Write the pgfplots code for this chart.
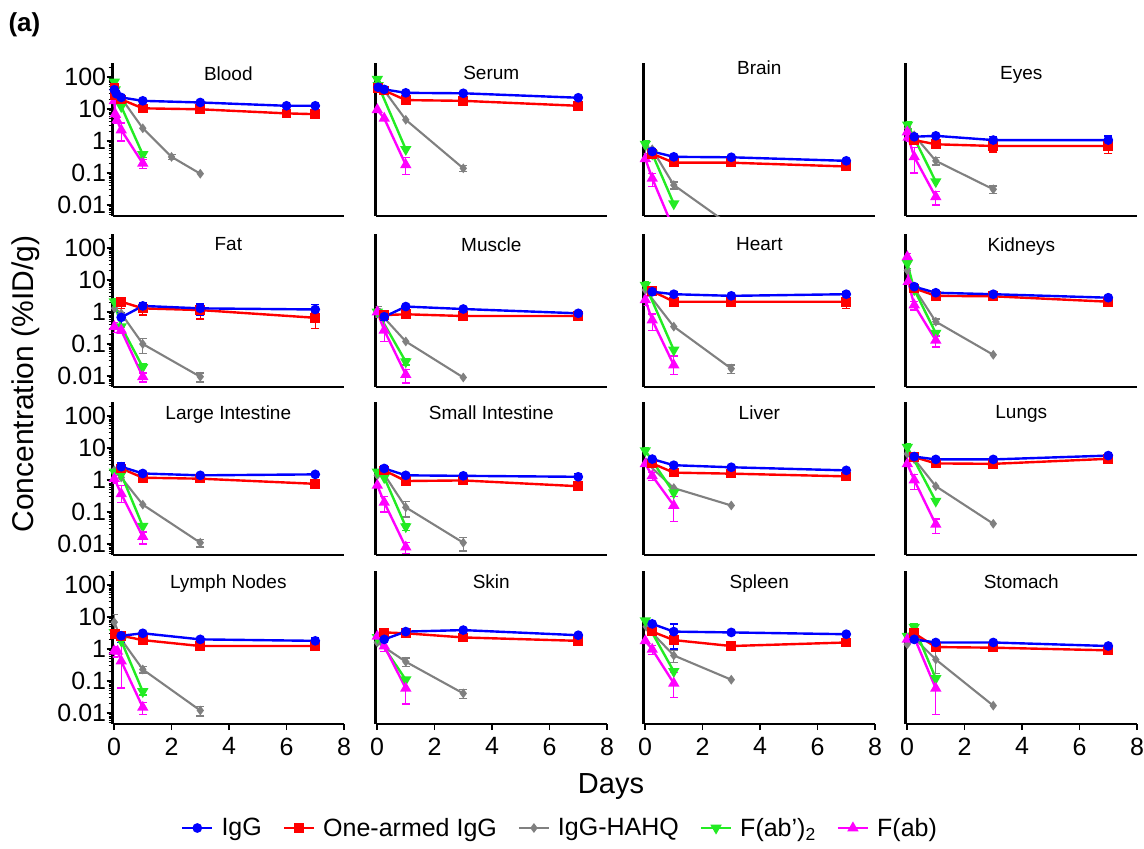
\documentclass[border=0pt]{standalone}
\usepackage{fontspec}
\setmainfont{Liberation Sans}
\usepackage{pgfplots}
\pgfplotsset{compat=1.18}
\definecolor{cblue}{RGB}{0,0,255}
\definecolor{cred}{RGB}{255,0,0}
\definecolor{cgray}{RGB}{128,128,128}
\definecolor{cgreen}{RGB}{35,235,35}
\definecolor{cmag}{RGB}{255,0,255}
\newcommand\tickfont{\fontsize{25}{30}\selectfont}
\newcommand\ttlfont{\fontsize{19}{22}\selectfont}
\newcommand\legfont{\fontsize{25}{30}\selectfont}
\pgfplotsset{
  myebar/.style={/pgfplots/error bars/y dir=both, /pgfplots/error bars/y explicit,
    /pgfplots/error bars/error bar style={line width=1.4pt, solid},
    /pgfplots/error bars/error mark options={rotate=90, mark size=4pt, line width=1.4pt}},
  sIgG/.style={cblue, line width=2.4pt, mark=*, mark size=3.6pt, mark options={solid}, myebar},
  sOA/.style={cred, line width=2.4pt, mark=square*, mark size=3.6pt, mark options={solid}, myebar},
  sHQ/.style={cgray, line width=2.1pt, mark=diamond*, mark size=3.2pt, mark options={solid}, myebar},
  sF2/.style={cgreen, line width=2.4pt, mark=triangle*, mark size=4.2pt, mark options={solid, rotate=180}, myebar},
  sF1/.style={cmag, line width=2.4pt, mark=triangle*, mark size=4.2pt, mark options={solid}, myebar},
  mypanel/.style={
    scale only axis, width=231.4pt, height=153.4pt, anchor=north west,
    xmin=-0.05, xmax=8, ymin=0.0045, ymax=280,
    axis x line*=bottom, axis y line*=left,
    axis line style={line width=2.3pt, -},
    xtick=\empty, ytick=\empty,
    tick align=outside, major tick length=6pt, minor tick length=4pt,
    every tick/.style={black, line width=1.5pt},
    every minor tick/.style={black, line width=1.1pt},
    tick label style={font=\tickfont},
    title style={font=\ttlfont, at={(0.5,1)}, anchor=north, yshift=-6pt},
  },
  myylab/.style={ytick={0.01,0.1,1,10,100}, yticklabels={0.01,0.1,1,10,100},
    minor ytick={0.005,0.006,0.007,0.008,0.009,0.02,0.03,0.04,0.05,0.06,0.07,0.08,0.09,
      0.2,0.3,0.4,0.5,0.6,0.7,0.8,0.9,2,3,4,5,6,7,8,9,20,30,40,50,60,70,80,90,200},
    yticklabel style={xshift=3pt}},
  myxlab/.style={xtick={0,2,4,6,8}, xticklabels={0,2,4,6,8}, xticklabel style={yshift=-4pt}},
}
\begin{document}
\begin{tikzpicture}
\path[use as bounding box] (0,0) rectangle (1144pt,-849pt);
% ---------------- Row 1 ----------------
\begin{axis}[ymode=log, mypanel, myylab, at={(112.6pt,-62.7pt)}, title={Blood}]
\addplot[sHQ] coordinates {(0.02,40) (0.25,22) (1,2.5) (2,0.32) +- (0,0.06) (3,0.095)};
\addplot[sF2] coordinates {(0.01,70) (0.04,40) (0.25,12) (1,0.38) +- (0,0.08)};
\addplot[sF1] coordinates {(0.01,18) (0.04,7) (0.1,4.5) +- (0,1) (0.25,2.2) += (0,1.5) -= (0,1.2) (1,0.2) +- (0,0.06)};
\addplot[sOA] coordinates {(0.01,45) (0.04,28) (0.25,20) (1,10.5) +- (0,1.5) (3,9.8) +- (0,1) (6,7.3) (7,6.9)};
\addplot[sIgG] coordinates {(0.01,40) (0.08,30) (0.25,23) (1,18) (3,16) (6,12.6) (7,12.6)};
\end{axis}
\begin{axis}[ymode=log, mypanel, at={(375.6pt,-62.7pt)}, title={Serum}]
\addplot[sHQ] coordinates {(0.02,50) (0.25,38) (1,4.6) (3,0.14) +- (0,0.03)};
\addplot[sF2] coordinates {(0.01,85) +- (0,15) (0.04,55) (1,0.55)};
\addplot[sF1] coordinates {(0.01,9.5) (0.25,5.1) (1,0.18) += (0,0.12) -= (0,0.09)};
\addplot[sOA] coordinates {(0.04,45) (0.25,38) (1,19) +- (0,3) (3,18) (7,12.6)};
\addplot[sIgG] coordinates {(0.04,48) (0.25,41) +- (0,8) (1,32) (3,31) (7,22.5)};
\end{axis}
\begin{axis}[ymode=log, mypanel, at={(643.6pt,-62.7pt)}, title={Brain}, title style={yshift=6pt}]
\addplot[sHQ] coordinates {(0.02,0.7) +- (0,0.3) (0.25,0.55) (1,0.042) +- (0,0.01) (3,0.0022)};
\addplot[sF2] coordinates {(0.01,0.8) +- (0,0.2) (0.25,0.4) (1,0.011)};
\addplot[sF1] coordinates {(0.01,0.28) (0.25,0.068) +- (0,0.03) (1,0.0017)};
\addplot[sOA] coordinates {(0.25,0.4) (1,0.21) +- (0,0.03) (3,0.21) (7,0.16)};
\addplot[sIgG] coordinates {(0.25,0.47) +- (0,0.1) (1,0.32) (3,0.31) (7,0.24)};
\end{axis}
\begin{axis}[ymode=log, mypanel, at={(905.6pt,-62.7pt)}, title={Eyes}]
\addplot[sHQ] coordinates {(0.02,2.5) +- (0,1) (0.25,1.5) (1,0.24) +- (0,0.06) (3,0.031) +- (0,0.008)};
\addplot[sF2] coordinates {(0.02,3.2) +- (0,0.8) (1,0.054)};
\addplot[sF1] coordinates {(0.01,1.9) +- (0,0.9) (0.04,1.3) (0.25,0.32) += (0,0.3) -= (0,0.22) (1,0.018) +- (0,0.008)};
\addplot[sOA] coordinates {(0.25,1.07) (1,0.79) +- (0,0.1) (3,0.70) +- (0,0.25) (7,0.70) +- (0,0.3)};
\addplot[sIgG] coordinates {(0.25,1.36) +- (0,0.2) (1,1.45) +- (0,0.15) (3,1.07) +- (0,0.3) (7,1.07) +- (0,0.35)};
\end{axis}
% ---------------- Row 2 ----------------
\begin{axis}[ymode=log, mypanel, myylab, at={(112.6pt,-233.7pt)}, title={Fat}]
\addplot[sHQ] coordinates {(0.02,1.3) (0.25,0.9) (1,0.10) +- (0,0.05) (3,0.0095) +- (0,0.003)};
\addplot[sF2] coordinates {(0.01,2.1) +- (0,0.6) (0.25,0.35) (1,0.019) +- (0,0.006)};
\addplot[sF1] coordinates {(0.01,0.35) +- (0,0.12) (0.25,0.27) +- (0,0.06) (1,0.0095) +- (0,0.003)};
\addplot[sOA] coordinates {(0.25,2.1) +- (0,0.8) (1,1.3) +- (0,0.5) (3,1.15) +- (0,0.55) (7,0.66) +- (0,0.35)};
\addplot[sIgG] coordinates {(0.25,0.68) +- (0,0.3) (1,1.55) +- (0,0.4) (3,1.3) +- (0,0.5) (7,1.2) +- (0,0.5)};
\end{axis}
\begin{axis}[ymode=log, mypanel, at={(375.6pt,-233.7pt)}, title={Muscle}]
\addplot[sHQ] coordinates {(0.02,1.1) +- (0,0.4) (1,0.12) (3,0.009)};
\addplot[sF2] coordinates {(0.01,1.0) (1,0.028) +- (0,0.006)};
\addplot[sF1] coordinates {(0.01,1.0) +- (0,0.3) (0.25,0.27) += (0,0.3) -= (0,0.15) (1,0.011) +- (0,0.005)};
\addplot[sOA] coordinates {(0.25,0.8) +- (0,0.2) (1,0.85) +- (0,0.12) (3,0.75) +- (0,0.15) (7,0.75) +- (0,0.1)};
\addplot[sIgG] coordinates {(0.25,0.71) +- (0,0.15) (1,1.48) (3,1.24) (7,0.91)};
\end{axis}
\begin{axis}[ymode=log, mypanel, at={(643.6pt,-233.7pt)}, title={Heart}]
\addplot[sHQ] coordinates {(0.01,4.9) (1,0.35) (3,0.017) +- (0,0.005)};
\addplot[sF2] coordinates {(0.01,6.9) +- (0,2) (1,0.065)};
\addplot[sF1] coordinates {(0.01,2.4) +- (0,0.8) (0.25,0.56) +- (0,0.3) (1,0.022) += (0,0.02) -= (0,0.011)};
\addplot[sOA] coordinates {(0.25,4.5) +- (0,1) (1,2.1) +- (0,0.3) (3,2.1) (7,2.1) +- (0,0.8)};
\addplot[sIgG] coordinates {(0.25,4.3) +- (0,0.6) (1,3.6) +- (0,0.7) (3,3.2) (7,3.6) +- (0,0.8)};
\end{axis}
\begin{axis}[ymode=log, mypanel, at={(905.6pt,-233.7pt)}, title={Kidneys}]
\addplot[sHQ] coordinates {(0.01,20) (0.25,5.5) (1,0.5) +- (0,0.1) (3,0.046)};
\addplot[sF2] coordinates {(0.01,33) +- (0,10) (0.25,5) (1,0.22)};
\addplot[sF1] coordinates {(0.01,53) +- (0,15) (0.04,8.9) (0.25,1.66) +- (0,0.5) (1,0.13) +- (0,0.05)};
\addplot[sOA] coordinates {(0.25,5.5) (1,3.2) +- (0,0.5) (3,3.1) (7,2.1)};
\addplot[sIgG] coordinates {(0.25,6.2) +- (0,1.2) (1,4.0) +- (0,0.7) (3,3.6) +- (0,0.4) (7,2.8) +- (0,0.4)};
\end{axis}
% ---------------- Row 3 ----------------
\begin{axis}[ymode=log, mypanel, myylab, at={(112.6pt,-401.7pt)}, title={Large Intestine}]
\addplot[sHQ] coordinates {(0.01,2.0) (0.25,1.2) (1,0.17) (3,0.011) +- (0,0.003)};
\addplot[sF2] coordinates {(0.01,1.8) (0.25,1.5) (1,0.036)};
\addplot[sF1] coordinates {(0.01,1.1) +- (0,0.3) (0.25,0.37) += (0,0.3) -= (0,0.17) (1,0.017) +- (0,0.007)};
\addplot[sOA] coordinates {(0.25,2.3) (1,1.18) +- (0,0.15) (3,1.1) (7,0.76)};
\addplot[sIgG] coordinates {(0.25,2.6) +- (0,0.8) (1,1.6) +- (0,0.2) (3,1.4) (7,1.5)};
\end{axis}
\begin{axis}[ymode=log, mypanel, at={(375.6pt,-401.7pt)}, title={Small Intestine}]
\addplot[sHQ] coordinates {(0.01,1.4) (0.25,1.5) (1,0.14) +- (0,0.07) (3,0.011) +- (0,0.005)};
\addplot[sF2] coordinates {(0.01,1.8) (0.25,1.2) (1,0.035) +- (0,0.008)};
\addplot[sF1] coordinates {(0.01,0.68) (0.25,0.2) +- (0,0.1) (1,0.008) +- (0,0.003)};
\addplot[sOA] coordinates {(0.25,2.0) (1,0.93) +- (0,0.25) (3,0.97) (7,0.64) +- (0,0.15)};
\addplot[sIgG] coordinates {(0.25,2.3) +- (0,0.5) (1,1.4) +- (0,0.2) (3,1.35) (7,1.26) +- (0,0.35)};
\end{axis}
\begin{axis}[ymode=log, mypanel, at={(643.6pt,-401.7pt)}, title={Liver}]
\addplot[sHQ] coordinates {(0.04,3.5) (1,0.56) (3,0.16)};
\addplot[sF2] coordinates {(0.01,8.3) +- (0,2) (1,0.4)};
\addplot[sF1] coordinates {(0.01,3.2) (0.25,1.35) +- (0,0.4) (1,0.16) += (0,0.15) -= (0,0.11)};
\addplot[sOA] coordinates {(0.25,3.3) (1,1.7) +- (0,0.35) (3,1.58) (7,1.3) +- (0,0.2)};
\addplot[sIgG] coordinates {(0.25,4.5) (1,2.9) (3,2.5) (7,2.0)};
\end{axis}
\begin{axis}[ymode=log, mypanel, at={(905.6pt,-401.7pt)}, title={Lungs}]
\addplot[sHQ] coordinates {(0.01,6.6) (0.25,4.5) (1,0.64) (3,0.043)};
\addplot[sF2] coordinates {(0.01,10.6) +- (0,3) (1,0.22)};
\addplot[sF1] coordinates {(0.01,3.2) (0.25,1.0) +- (0,0.5) (1,0.041) +- (0,0.02)};
\addplot[sOA] coordinates {(0.25,5.2) (1,3.3) +- (0,0.5) (3,3.2) (7,4.6)};
\addplot[sIgG] coordinates {(0.25,5.4) (1,4.4) (3,4.4) (7,5.8)};
\end{axis}
% ---------------- Row 4 ----------------
\begin{axis}[ymode=log, mypanel, myylab, myxlab, at={(112.6pt,-570.7pt)}, title={Lymph Nodes}]
\addplot[sHQ] coordinates {(0.01,6.9) += (0,5) -= (0,4) (0.25,2) (1,0.23) +- (0,0.05) (3,0.012) +- (0,0.004)};
\addplot[sF2] coordinates {(0.01,3.3) +- (0,0.8) (0.25,1.8) (1,0.047) +- (0,0.01)};
\addplot[sF1] coordinates {(0.01,0.87) +- (0,0.3) (0.12,0.85) (0.25,0.42) += (0,1.6) -= (0,0.36) (1,0.015) +- (0,0.006)};
\addplot[sOA] coordinates {(0.04,3) (0.25,2.6) (1,1.9) +- (0,0.3) (3,1.24) (7,1.24) +- (0,0.25)};
\addplot[sIgG] coordinates {(0.25,2.6) +- (0,1) (1,3.1) (3,2.0) (7,1.8) +- (0,0.4)};
\end{axis}
\begin{axis}[ymode=log, mypanel, myxlab, at={(375.6pt,-570.7pt)}, title={Skin}]
\addplot[sHQ] coordinates {(0.01,1.6) (1,0.4) +- (0,0.12) (3,0.041) +- (0,0.013)};
\addplot[sF2] coordinates {(0.01,2.3) (1,0.11)};
\addplot[sF1] coordinates {(0.01,2.5) (0.25,1.24) +- (0,0.4) (1,0.059) += (0,0.06) -= (0,0.04)};
\addplot[sOA] coordinates {(0.25,3.3) +- (0,0.8) (1,3.1) +- (0,0.4) (3,2.3) (7,1.8) +- (0,0.4)};
\addplot[sIgG] coordinates {(0.25,2.0) (1,3.5) (3,3.9) +- (0,0.5) (7,2.7) +- (0,0.4)};
\end{axis}
\begin{axis}[ymode=log, mypanel, myxlab, at={(643.6pt,-570.7pt)}, title={Spleen}]
\addplot[sHQ] coordinates {(0.04,5) (1,0.63) +- (0,0.25) (3,0.11)};
\addplot[sF2] coordinates {(0.01,7.7) (1,0.2)};
\addplot[sF1] coordinates {(0.01,1.8) (0.25,0.97) +- (0,0.3) (1,0.085) += (0,0.1) -= (0,0.055)};
\addplot[sOA] coordinates {(0.25,3.5) (1,1.9) +- (0,0.5) (3,1.24) (7,1.6)};
\addplot[sIgG] coordinates {(0.25,6.1) (1,3.5) +- (0,2.5) (3,3.3) (7,2.9)};
\end{axis}
\begin{axis}[ymode=log, mypanel, myxlab, at={(905.6pt,-570.7pt)}, title={Stomach}]
\addplot[sHQ] coordinates {(0.01,1.4) (0.25,2.2) (1,0.47) += (0,0.5) -= (0,0.3) (3,0.017)};
\addplot[sF2] coordinates {(0.01,2.5) (0.25,4.8) +- (0,1.5) (1,0.12)};
\addplot[sF1] coordinates {(0.01,2.0) +- (0,0.5) (0.25,2.3) (1,0.059) += (0,0.09) -= (0,0.05)};
\addplot[sOA] coordinates {(0.25,3.1) +- (0,0.8) (1,1.15) +- (0,0.2) (3,1.1) (7,0.91)};
\addplot[sIgG] coordinates {(0.25,2.0) +- (0,0.3) (1,1.6) (3,1.6) (7,1.24)};
\end{axis}
% ---------------- Legend ----------------
\begin{axis}[hide axis, scale only axis, width=10pt, height=10pt, at={(560pt,-828pt)}, anchor=center,
  xmin=0, xmax=1, ymin=0, ymax=1,
  legend columns=5,
  legend style={at={(0.5,0.5)}, anchor=center, draw=none, font=\legfont,
    /tikz/every odd column/.append style={column sep=6pt},
    /tikz/every even column/.append style={column sep=19pt}},
  legend image code/.code={\draw[mark repeat=2, mark phase=2, #1] plot coordinates {(0pt,0pt) (15pt,0pt) (30pt,0pt)};}]
\addlegendimage{sIgG}\addlegendentry{IgG}
\addlegendimage{sOA}\addlegendentry{One-armed IgG}
\addlegendimage{sHQ}\addlegendentry{IgG-HAHQ}
\addlegendimage{sF2}\addlegendentry{F(ab’)\textsubscript{2}}
\addlegendimage{sF1}\addlegendentry{F(ab)}
\end{axis}
% ---------------- Labels ----------------
\node[font=\fontsize{29}{34}\selectfont] at (611pt,-787pt) {Days};
\node[font=\fontsize{30}{36}\selectfont, rotate=90] at (26pt,-384pt) {Concentration (\%ID/g)};
\node[font=\fontsize{26}{30}\selectfont\bfseries, anchor=west] at (5pt,-25pt) {(a)};
\end{tikzpicture}
\end{document}
